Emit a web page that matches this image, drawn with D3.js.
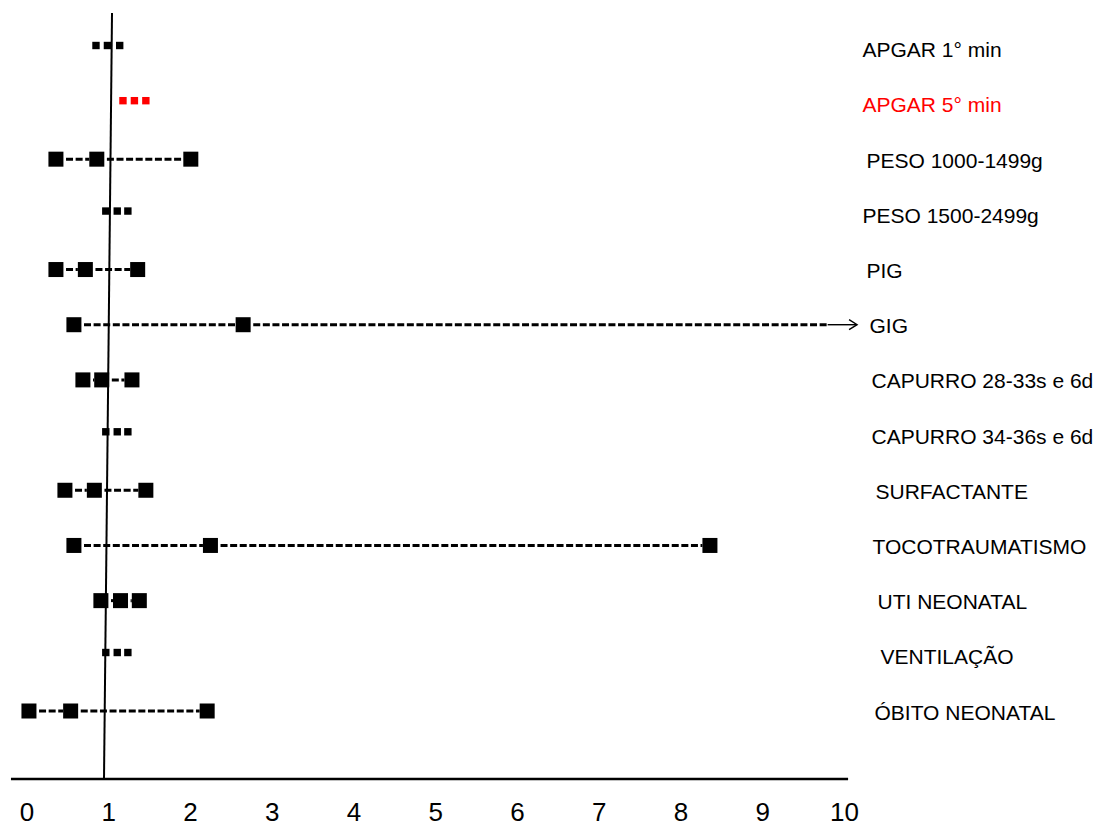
<!DOCTYPE html>
<html>
<head>
<meta charset="utf-8">
<script src="https://cdn.jsdelivr.net/npm/d3@7"></script>
<style>
  html, body { margin: 0; padding: 0; background: #fff; }
  svg { display: block; font-family: "Liberation Sans", Arial, sans-serif; }
</style>
</head>
<body>
<svg id="chart" width="1099" height="827"></svg>
<script>
// Outcomes (rows, top to bottom)
const categories = [
  "APGAR 1° min", "APGAR 5° min", "PESO 1000-1499g", "PESO 1500-2499g",
  "PIG", "GIG", "CAPURRO 28-33s e 6d", "CAPURRO 34-36s e 6d",
  "SURFACTANTE", "TOCOTRAUMATISMO", "UTI NEONATAL", "VENTILAÇÃO", "ÓBITO NEONATAL"
];
// Lower limit, point estimate and upper limit of each interval
const lower    = [0.85, 1.18, 0.36, 0.97, 0.36, 0.58, 0.69, 0.97, 0.47, 0.58, 0.91, 0.97, 0.03];
const estimate = [0.99, 1.32, 0.86, 1.11, 0.72, 2.65, 0.92, 1.11, 0.83, 2.25, 1.15, 1.11, 0.54];
const upper    = [1.14, 1.46, 2.01, 1.24, 1.36, Infinity, 1.29, 1.24, 1.46, 8.36, 1.38, 1.24, 2.21];
// Axis tick labels
const tickValues = [0, 1, 2, 3, 4, 5, 6, 7, 8, 9, 10];
// Outcome shown in red
const highlighted = "APGAR 5° min";

// ---- layout ----
const svg = d3.select("#chart");
const x = d3.scaleLinear().domain([0, 10]).range([26.5, 844]);
const y = d3.scalePoint().domain(categories).range([48.8, 711]);
const axisY = 779;
const labelX = 862.5;
const labelIndent = [0, 0, 4, 0, 4, 7, 9, 9, 13, 10, 15, 18, 12];
const bigSize = 15, smallSize = 7.4;
const smallLift = 3.3;      // compact markers sit a little higher
const arrowTip = 10.16;     // open-ended upper limit arrow stops here
const arrowSolidFrom = 9.8; // last stretch of the open-ended line is solid

const rows = categories.map((c, i) => ({
  name: c, lo: lower[i], est: estimate[i], hi: upper[i], i
}));

// reference line at 1 (drawn slightly tilted)
svg.append("line")
  .attr("x1", x(1.046)).attr("y1", 13)
  .attr("x2", x(0.948)).attr("y2", axisY)
  .attr("stroke", "#000").attr("stroke-width", 2);

// horizontal axis line
svg.append("line")
  .attr("x1", x(-0.19)).attr("x2", x(10.05))
  .attr("y1", axisY).attr("y2", axisY)
  .attr("stroke", "#000").attr("stroke-width", 2.6);

// tick labels
const axis = d3.axisBottom(x).tickValues(tickValues).tickSize(0).tickPadding(0)
  .tickFormat(d3.format("d"));
const gAxis = svg.append("g").attr("transform", `translate(0,${axisY})`).call(axis);
gAxis.select(".domain").remove();
gAxis.attr("font-size", 26).attr("font-family", "'Liberation Sans', Arial, sans-serif");
gAxis.selectAll("text")
  .attr("y", 0).attr("dy", 42)
  .attr("fill", "#000");

// intervals
const g = svg.append("g");
const dashed = sel => sel
  .attr("stroke-width", 3)
  .attr("stroke-dasharray", "7 2.6").attr("stroke-dashoffset", 7);

rows.forEach(r => {
  const color = r.name === highlighted ? "#ff0000" : "#000";
  const finite = isFinite(r.hi);
  const compact = finite && (r.hi - r.lo) < 0.4;
  const cy = y(r.name) - (compact ? smallLift : 0);
  const s = compact ? smallSize : bigSize;
  const pts = finite ? [r.lo, r.est, r.hi] : [r.lo, r.est];

  if (!compact) {
    // dashed connectors between consecutive markers
    for (let k = 0; k < pts.length - 1; k++) {
      const a = x(pts[k]) + s / 2, b = x(pts[k + 1]) - s / 2;
      if (b > a) {
        g.append("line")
          .attr("x1", a).attr("x2", b).attr("y1", cy).attr("y2", cy)
          .attr("stroke", color).call(dashed);
      }
    }
    if (!finite) {
      const a = x(r.est) + s / 2, b = x(arrowSolidFrom);
      g.append("line")
        .attr("x1", a).attr("x2", b).attr("y1", cy).attr("y2", cy)
        .attr("stroke", color).call(dashed);
      const tip = x(arrowTip);
      g.append("line")
        .attr("x1", b).attr("x2", tip - 1).attr("y1", cy).attr("y2", cy)
        .attr("stroke", color).attr("stroke-width", 1.4);
      g.append("path")
        .attr("d", `M${tip - 8},${cy - 5} L${tip},${cy} L${tip - 8},${cy + 5}`)
        .attr("fill", "none").attr("stroke", color).attr("stroke-width", 1.4);
    }
  }

  g.selectAll(null).data(pts).enter().append("rect")
    .attr("x", d => x(d) - s / 2)
    .attr("y", cy - s / 2)
    .attr("width", s).attr("height", s)
    .attr("fill", color);
});

// outcome labels
svg.append("g").selectAll("text").data(rows).enter().append("text")
  .attr("x", d => labelX + labelIndent[d.i])
  .attr("y", d => y(d.name) + 8.5)
  .attr("font-size", 21)
  .attr("fill", d => d.name === highlighted ? "#ff0000" : "#000")
  .text(d => d.name);
</script>
</body>
</html>
